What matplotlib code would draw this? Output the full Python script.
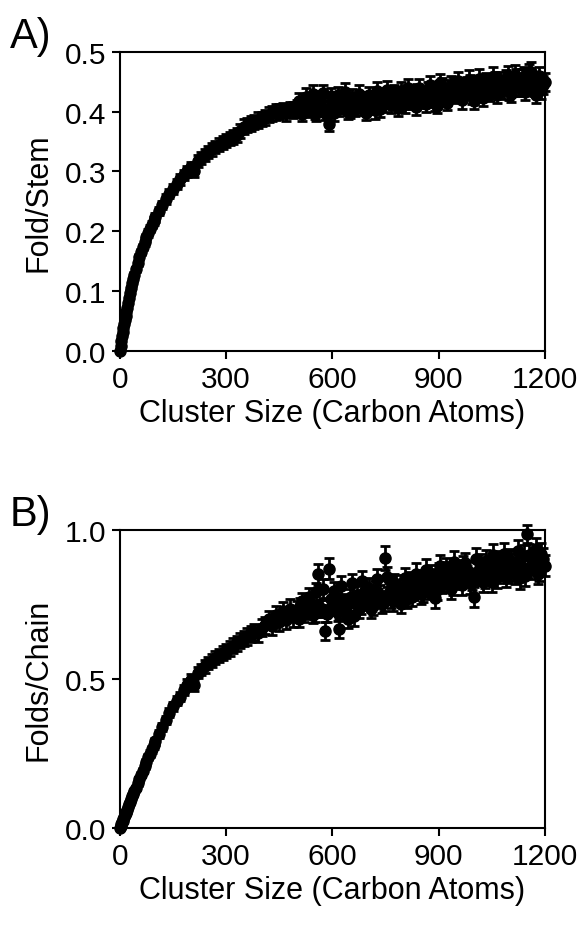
import numpy as np
import matplotlib
matplotlib.use("Agg")
import matplotlib.pyplot as plt
from matplotlib.ticker import FormatStrFormatter

plt.rcParams['font.family'] = ['Liberation Sans', 'DejaVu Sans']

# cluster sizes (carbon atoms)
size = [0, 2, 4, 6, 8, 10, 12, 14, 16, 18, 20,
        23, 26, 29, 32, 35, 38, 41, 45,
        50, 55, 60, 65, 70, 75, 80, 85, 90, 95, 100,
        110, 120, 130, 140, 150, 160, 170, 180, 190, 200,
        210, 220, 230, 240, 250, 260, 270, 280, 290, 300,
        310, 320, 330, 340, 350, 360, 370, 380, 390, 400,
        410, 420, 430, 440, 450, 460, 470, 480, 490, 500,
        510, 520, 530, 540, 550, 560, 570, 580, 590, 600,
        610, 620, 630, 640, 650, 660, 670, 680, 690, 700,
        710, 720, 730, 740, 750, 760, 770, 780, 790, 800,
        810, 820, 830, 840, 850, 860, 870, 880, 890, 900,
        910, 920, 930, 940, 950, 960, 970, 980, 990, 1000,
        1010, 1020, 1030, 1040, 1050, 1060, 1070, 1080, 1090, 1100,
        1110, 1120, 1130, 1140, 1150, 1160, 1170, 1180, 1190, 1200]

# extra sizes in the noisy plateau region
size_mid = [505, 515, 525, 535, 545, 555, 565, 575, 585, 595,
            605, 615, 625, 635, 645, 655, 665, 675, 685, 695,
            705, 715, 725, 735, 745, 755, 765, 775, 785, 795,
            805, 815, 825, 835, 845, 855, 865, 875, 885, 895,
            905, 915, 925, 935, 945, 955, 965, 975, 985, 995,
            1005, 1015, 1025, 1035, 1045, 1055, 1065, 1075, 1085, 1095,
            1105, 1115, 1125, 1135, 1145, 1155, 1165, 1175, 1185, 1195]

# A) fold/stem
fold_stem = [0.000, 0.008, 0.016, 0.024, 0.031, 0.038, 0.045, 0.052, 0.058, 0.065, 0.071,
             0.080, 0.089, 0.097, 0.105, 0.113, 0.120, 0.127, 0.136,
             0.146, 0.156, 0.165, 0.174, 0.182, 0.190, 0.197, 0.204, 0.211, 0.217, 0.223,
             0.234, 0.244, 0.254, 0.263, 0.271, 0.279, 0.287, 0.294, 0.300, 0.307,
             0.300, 0.318, 0.323, 0.328, 0.333, 0.337, 0.341, 0.345, 0.348, 0.352,
             0.355, 0.358, 0.361, 0.368, 0.375, 0.378, 0.380, 0.383, 0.386, 0.388,
             0.390, 0.395, 0.397, 0.399, 0.400, 0.402, 0.398, 0.404, 0.403, 0.406,
             0.402, 0.408, 0.405, 0.411, 0.400, 0.414, 0.406, 0.398, 0.380, 0.412,
             0.418, 0.404, 0.415, 0.409, 0.402, 0.413, 0.417, 0.406, 0.420, 0.411,
             0.415, 0.402, 0.419, 0.423, 0.412, 0.425, 0.418, 0.428, 0.413, 0.421,
             0.430, 0.417, 0.424, 0.431, 0.420, 0.427, 0.434, 0.422, 0.415, 0.437,
             0.441, 0.430, 0.438, 0.444, 0.433, 0.440, 0.436, 0.443, 0.447, 0.418,
             0.435, 0.441, 0.448, 0.437, 0.444, 0.451, 0.440, 0.446, 0.453, 0.435,
             0.449, 0.456, 0.442, 0.458, 0.447, 0.467, 0.442, 0.452, 0.437, 0.450]
fold_stem_err = [0.001, 0.001, 0.002, 0.002, 0.002, 0.002, 0.002, 0.002, 0.003, 0.003, 0.003,
                 0.003, 0.003, 0.004, 0.004, 0.004, 0.004, 0.004, 0.004,
                 0.005, 0.005, 0.005, 0.005, 0.006, 0.006, 0.006, 0.006, 0.006, 0.006, 0.007,
                 0.007, 0.007, 0.008, 0.008, 0.008, 0.008, 0.009, 0.009, 0.009, 0.009,
                 0.009, 0.010, 0.010, 0.010, 0.010, 0.011, 0.010, 0.011, 0.011, 0.011,
                 0.011, 0.012, 0.011, 0.012, 0.012, 0.012, 0.012, 0.012, 0.013, 0.012,
                 0.013, 0.012, 0.013, 0.013, 0.012, 0.013, 0.013, 0.012, 0.013, 0.013,
                 0.011, 0.012, 0.011, 0.012, 0.012, 0.013, 0.012, 0.012, 0.013, 0.012,
                 0.013, 0.012, 0.013, 0.012, 0.013, 0.014, 0.013, 0.012, 0.013, 0.013,
                 0.013, 0.014, 0.013, 0.014, 0.013, 0.014, 0.014, 0.013, 0.014, 0.014,
                 0.014, 0.013, 0.014, 0.015, 0.014, 0.014, 0.015, 0.014, 0.014, 0.015,
                 0.015, 0.014, 0.015, 0.014, 0.015, 0.015, 0.014, 0.015, 0.015, 0.014,
                 0.015, 0.014, 0.015, 0.015, 0.016, 0.015, 0.014, 0.015, 0.016, 0.015,
                 0.015, 0.016, 0.015, 0.016, 0.015, 0.016, 0.015, 0.015, 0.016, 0.015]
fold_stem_mid = [0.418, 0.396, 0.425, 0.404, 0.429, 0.397, 0.422, 0.431, 0.401, 0.426,
                 0.398, 0.428, 0.410, 0.433, 0.400, 0.424, 0.405, 0.430, 0.412, 0.398,
                 0.428, 0.409, 0.434, 0.404, 0.426, 0.437, 0.411, 0.431, 0.406, 0.435,
                 0.412, 0.439, 0.418, 0.408, 0.440, 0.421, 0.413, 0.444, 0.426, 0.410,
                 0.448, 0.424, 0.415, 0.445, 0.428, 0.451, 0.419, 0.438, 0.453, 0.426,
                 0.441, 0.455, 0.423, 0.449, 0.432, 0.458, 0.428, 0.451, 0.437, 0.460,
                 0.430, 0.462, 0.441, 0.455, 0.433, 0.463, 0.447, 0.428, 0.459, 0.444]
fold_stem_mid_err = [0.013, 0.012, 0.014, 0.013, 0.015, 0.012, 0.013, 0.014, 0.012, 0.013,
                     0.013, 0.014, 0.013, 0.015, 0.013, 0.014, 0.013, 0.014, 0.013, 0.012,
                     0.014, 0.013, 0.015, 0.013, 0.014, 0.015, 0.013, 0.014, 0.013, 0.015,
                     0.014, 0.015, 0.014, 0.013, 0.015, 0.014, 0.013, 0.015, 0.014, 0.013,
                     0.015, 0.014, 0.013, 0.015, 0.014, 0.016, 0.014, 0.015, 0.016, 0.014,
                     0.015, 0.016, 0.014, 0.015, 0.014, 0.016, 0.014, 0.015, 0.015, 0.016,
                     0.014, 0.016, 0.015, 0.016, 0.014, 0.016, 0.015, 0.014, 0.016, 0.015]

# B) folds/chain
folds_chain = [0.000, 0.006, 0.012, 0.018, 0.024, 0.030, 0.036, 0.042, 0.048, 0.054, 0.060,
               0.069, 0.078, 0.087, 0.096, 0.105, 0.114, 0.123, 0.134,
               0.149, 0.163, 0.178, 0.192, 0.207, 0.221, 0.236, 0.249, 0.263, 0.276, 0.290,
               0.314, 0.338, 0.362, 0.386, 0.408, 0.427, 0.440, 0.462, 0.480, 0.497,
               0.478, 0.520, 0.531, 0.542, 0.553, 0.561, 0.570, 0.578, 0.586, 0.594,
               0.602, 0.611, 0.619, 0.628, 0.636, 0.642, 0.650, 0.657, 0.652, 0.672,
               0.680, 0.700, 0.676, 0.715, 0.690, 0.726, 0.698, 0.735, 0.706, 0.730,
               0.745, 0.718, 0.737, 0.752, 0.721, 0.850, 0.735, 0.660, 0.870, 0.742,
               0.768, 0.668, 0.755, 0.730, 0.772, 0.710, 0.780, 0.748, 0.790, 0.762,
               0.735, 0.795, 0.771, 0.752, 0.905, 0.788, 0.760, 0.815, 0.779, 0.801,
               0.768, 0.826, 0.795, 0.812, 0.784, 0.830, 0.801, 0.847, 0.770, 0.856,
               0.823, 0.870, 0.838, 0.815, 0.862, 0.835, 0.878, 0.846, 0.820, 0.775,
               0.858, 0.884, 0.840, 0.871, 0.826, 0.893, 0.855, 0.878, 0.842, 0.900,
               0.864, 0.885, 0.838, 0.912, 0.985, 0.872, 0.905, 0.853, 0.918, 0.880]
folds_chain_err = [0.001, 0.001, 0.002, 0.002, 0.003, 0.003, 0.003, 0.004, 0.004, 0.004, 0.005,
                   0.005, 0.005, 0.006, 0.006, 0.006, 0.007, 0.007, 0.007,
                   0.008, 0.008, 0.009, 0.009, 0.010, 0.010, 0.010, 0.011, 0.011, 0.012, 0.012,
                   0.013, 0.013, 0.014, 0.015, 0.015, 0.016, 0.016, 0.017, 0.018, 0.018,
                   0.019, 0.019, 0.020, 0.021, 0.021, 0.022, 0.022, 0.023, 0.023, 0.024,
                   0.024, 0.025, 0.025, 0.026, 0.026, 0.027, 0.027, 0.028, 0.028, 0.028,
                   0.029, 0.029, 0.030, 0.030, 0.031, 0.031, 0.031, 0.032, 0.032, 0.032,
                   0.027, 0.027, 0.028, 0.028, 0.029, 0.035, 0.028, 0.030, 0.034, 0.029,
                   0.030, 0.031, 0.030, 0.031, 0.030, 0.032, 0.031, 0.030, 0.032, 0.031,
                   0.031, 0.032, 0.031, 0.032, 0.040, 0.032, 0.031, 0.033, 0.032, 0.033,
                   0.032, 0.033, 0.032, 0.034, 0.033, 0.034, 0.033, 0.034, 0.033, 0.034,
                   0.034, 0.035, 0.034, 0.033, 0.035, 0.034, 0.035, 0.034, 0.035, 0.034,
                   0.035, 0.034, 0.035, 0.036, 0.035, 0.036, 0.035, 0.036, 0.035, 0.036,
                   0.036, 0.035, 0.036, 0.036, 0.030, 0.036, 0.035, 0.036, 0.037, 0.036]
folds_chain_mid = [0.702, 0.760, 0.728, 0.775, 0.715, 0.790, 0.736, 0.802, 0.718, 0.768,
                   0.795, 0.722, 0.812, 0.745, 0.700, 0.820, 0.758, 0.735, 0.828, 0.770,
                   0.806, 0.744, 0.835, 0.782, 0.758, 0.842, 0.768, 0.820, 0.790, 0.752,
                   0.838, 0.805, 0.775, 0.852, 0.818, 0.790, 0.866, 0.812, 0.835, 0.798,
                   0.880, 0.824, 0.858, 0.802, 0.892, 0.845, 0.815, 0.887, 0.860, 0.832,
                   0.902, 0.848, 0.826, 0.895, 0.862, 0.915, 0.840, 0.882, 0.920, 0.858,
                   0.895, 0.852, 0.928, 0.875, 0.845, 0.915, 0.885, 0.935, 0.862, 0.902]
folds_chain_mid_err = [0.027, 0.029, 0.028, 0.030, 0.028, 0.031, 0.029, 0.032, 0.028, 0.030,
                       0.031, 0.029, 0.033, 0.030, 0.029, 0.033, 0.031, 0.030, 0.033, 0.031,
                       0.032, 0.030, 0.034, 0.032, 0.031, 0.034, 0.031, 0.033, 0.032, 0.031,
                       0.034, 0.033, 0.032, 0.035, 0.033, 0.032, 0.035, 0.033, 0.034, 0.033,
                       0.035, 0.033, 0.034, 0.033, 0.036, 0.034, 0.033, 0.035, 0.034, 0.034,
                       0.036, 0.034, 0.034, 0.036, 0.035, 0.036, 0.034, 0.035, 0.037, 0.035,
                       0.036, 0.035, 0.037, 0.035, 0.035, 0.036, 0.035, 0.037, 0.035, 0.036]

x_ticks = [0, 300, 600, 900, 1200]

fig = plt.figure(figsize=(5.82, 9.28), dpi=100)
ax_a = fig.add_axes([0.206, 0.621, 0.730, 0.322])
ax_b = fig.add_axes([0.206, 0.107, 0.730, 0.321])


def draw_panel(ax, series, ylabel, yticks, ymax, letter):
    for xs, ys, es in series:
        cont = ax.errorbar(xs, ys, yerr=es, fmt='o', color='black', ms=8,
                           capsize=3.5, elinewidth=2, capthick=2)
        for art in cont.get_children():
            art.set_clip_on(False)
    ax.set_xlim(0, 1200)
    ax.set_ylim(0, ymax)
    ax.set_xticks(x_ticks)
    ax.set_yticks(yticks)
    ax.yaxis.set_major_formatter(FormatStrFormatter('%.1f'))
    ax.tick_params(direction='out', length=6, width=1.5, labelsize=21.5, pad=4)
    ax.tick_params(axis='x', pad=4)
    for sp in ax.spines.values():
        sp.set_linewidth(1.5)
    ax.set_xlabel("Cluster Size (Carbon Atoms)", fontsize=22, labelpad=4)
    ax.set_ylabel(ylabel, fontsize=22, labelpad=8)
    ax.text(-0.26, 1.015, letter, transform=ax.transAxes, fontsize=30,
            ha='left', va='baseline')


draw_panel(ax_a, [(size, fold_stem, fold_stem_err),
                  (size_mid, fold_stem_mid, fold_stem_mid_err)],
           "Fold/Stem", [0.0, 0.1, 0.2, 0.3, 0.4, 0.5], 0.5, "A)")
draw_panel(ax_b, [(size, folds_chain, folds_chain_err),
                  (size_mid, folds_chain_mid, folds_chain_mid_err)],
           "Folds/Chain", [0.0, 0.5, 1.0], 1.0, "B)")

fig.savefig("out.png", dpi=100)
